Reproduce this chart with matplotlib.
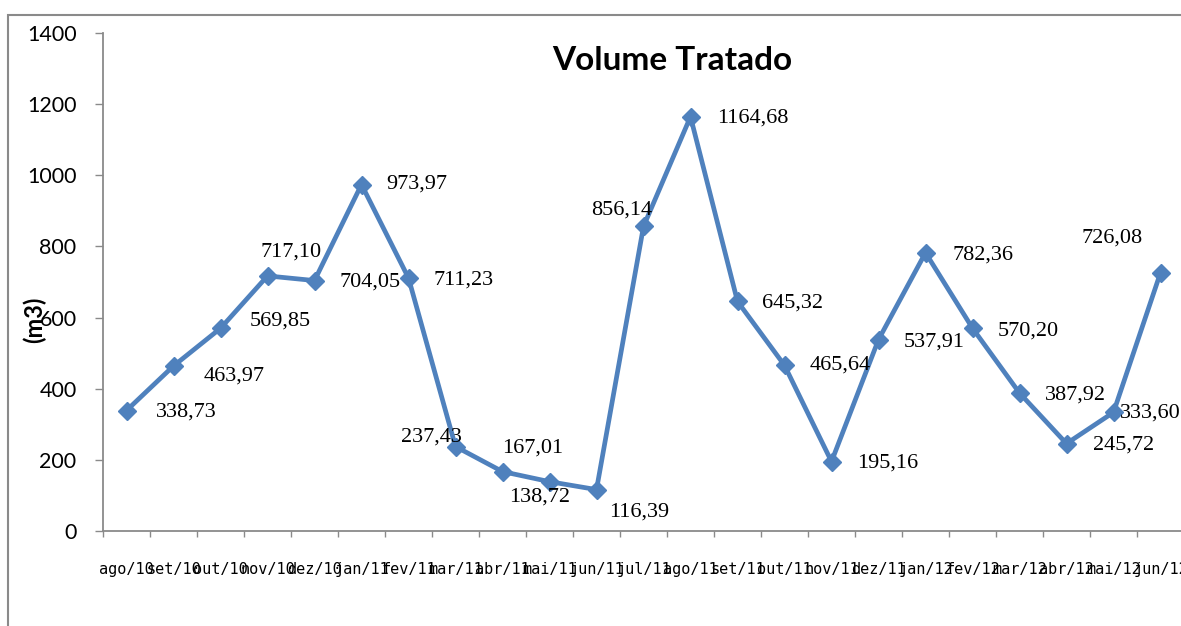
import matplotlib
matplotlib.use("Agg")
import matplotlib.pyplot as plt
from matplotlib.patches import Rectangle

# Data
months = ["ago/10", "set/10", "out/10", "nov/10", "dez/10", "jan/11", "fev/11",
          "mar/11", "abr/11", "mai/11", "jun/11", "jul/11", "ago/11", "set/11",
          "out/11", "nov/11", "dez/11", "jan/12", "fev/12", "mar/12", "abr/12",
          "mai/12", "jun/12"]
volume = [338.73, 463.97, 569.85, 717.10, 704.05, 973.97, 711.23,
          237.43, 167.01, 138.72, 116.39, 856.14, 1164.68, 645.32,
          465.64, 195.16, 537.91, 782.36, 570.20, 387.92, 245.72,
          333.60, 726.08]
y_ticks = [0, 200, 400, 600, 800, 1000, 1200, 1400]

# label offsets in pixels (dx right, dy down), as placed in the original chart
label_offsets = [(60, 2), (61, 10), (60, -7), (24, -24), (56, 1), (55, 0), (55, 2),
                 (-24, -9), (30, -24), (-10, 15), (43, 22), (-22, -16), (62, 1), (55, 2),
                 (56, 0), (56, 1), (56, 2), (57, 2), (56, 3), (56, 2), (57, 1),
                 (37, 1), (-48, -35)]

W, H = 1181, 626
fig = plt.figure(figsize=(W / 100, H / 100), dpi=100)

# outer chart frame
fig.patches.append(Rectangle((8 / W, -0.1), 1.2, (H - 15) / H + 0.1,
                             transform=fig.transFigure, fill=False,
                             edgecolor="#8a8a8a", linewidth=1.5))

ax = fig.add_axes([103 / W, (H - 531) / H, (1184 - 103) / W, 498 / H])
x = list(range(len(months)))
ax.plot(x, volume, color="#4F81BD", linewidth=3.4, marker="D", markersize=9,
        markerfacecolor="#4F81BD", markeredgecolor="#4F81BD", zorder=3)

for xi, v, (dx, dy) in zip(x, volume, label_offsets):
    ax.annotate(f"{v:.2f}".replace(".", ","), (xi, v), xytext=(dx, -dy),
                textcoords="offset pixels", ha="center", va="center",
                fontsize=16, family="Liberation Serif", color="black")

ax.set_xlim(-0.5, len(months) - 0.5)
ax.set_ylim(0, 1400)
ax.set_yticks(y_ticks)
ax.set_yticklabels([str(t) for t in y_ticks], family="Lato", fontsize=15.5)
ax.tick_params(axis="y", direction="out", length=6, width=1, color="#8a8a8a", pad=13)

ax.set_xticks([i - 0.5 for i in range(len(months) + 1)])
ax.set_xticklabels([])
ax.set_xticks(x, minor=True)
ax.set_xticklabels(months, minor=True, family="DejaVu Sans Mono", fontsize=11)
ax.tick_params(axis="x", which="major", direction="out", length=4, width=1, color="#8a8a8a")
ax.tick_params(axis="x", which="minor", length=0, pad=22)

for s in ["top", "right"]:
    ax.spines[s].set_visible(False)
for s in ["left", "bottom"]:
    ax.spines[s].set_color("#8a8a8a")
    ax.spines[s].set_linewidth(1.3)

fig.text(672 / W, 1 - 61 / H, "Volume Tratado", ha="center", va="center",
         family="Lato", fontweight="bold", fontsize=24)
fig.text(34 / W, 1 - 320 / H, "(m3)", ha="center", va="center", rotation=90,
         family="Lato", fontweight="bold", fontsize=17)

fig.savefig("out.png", dpi=100)
